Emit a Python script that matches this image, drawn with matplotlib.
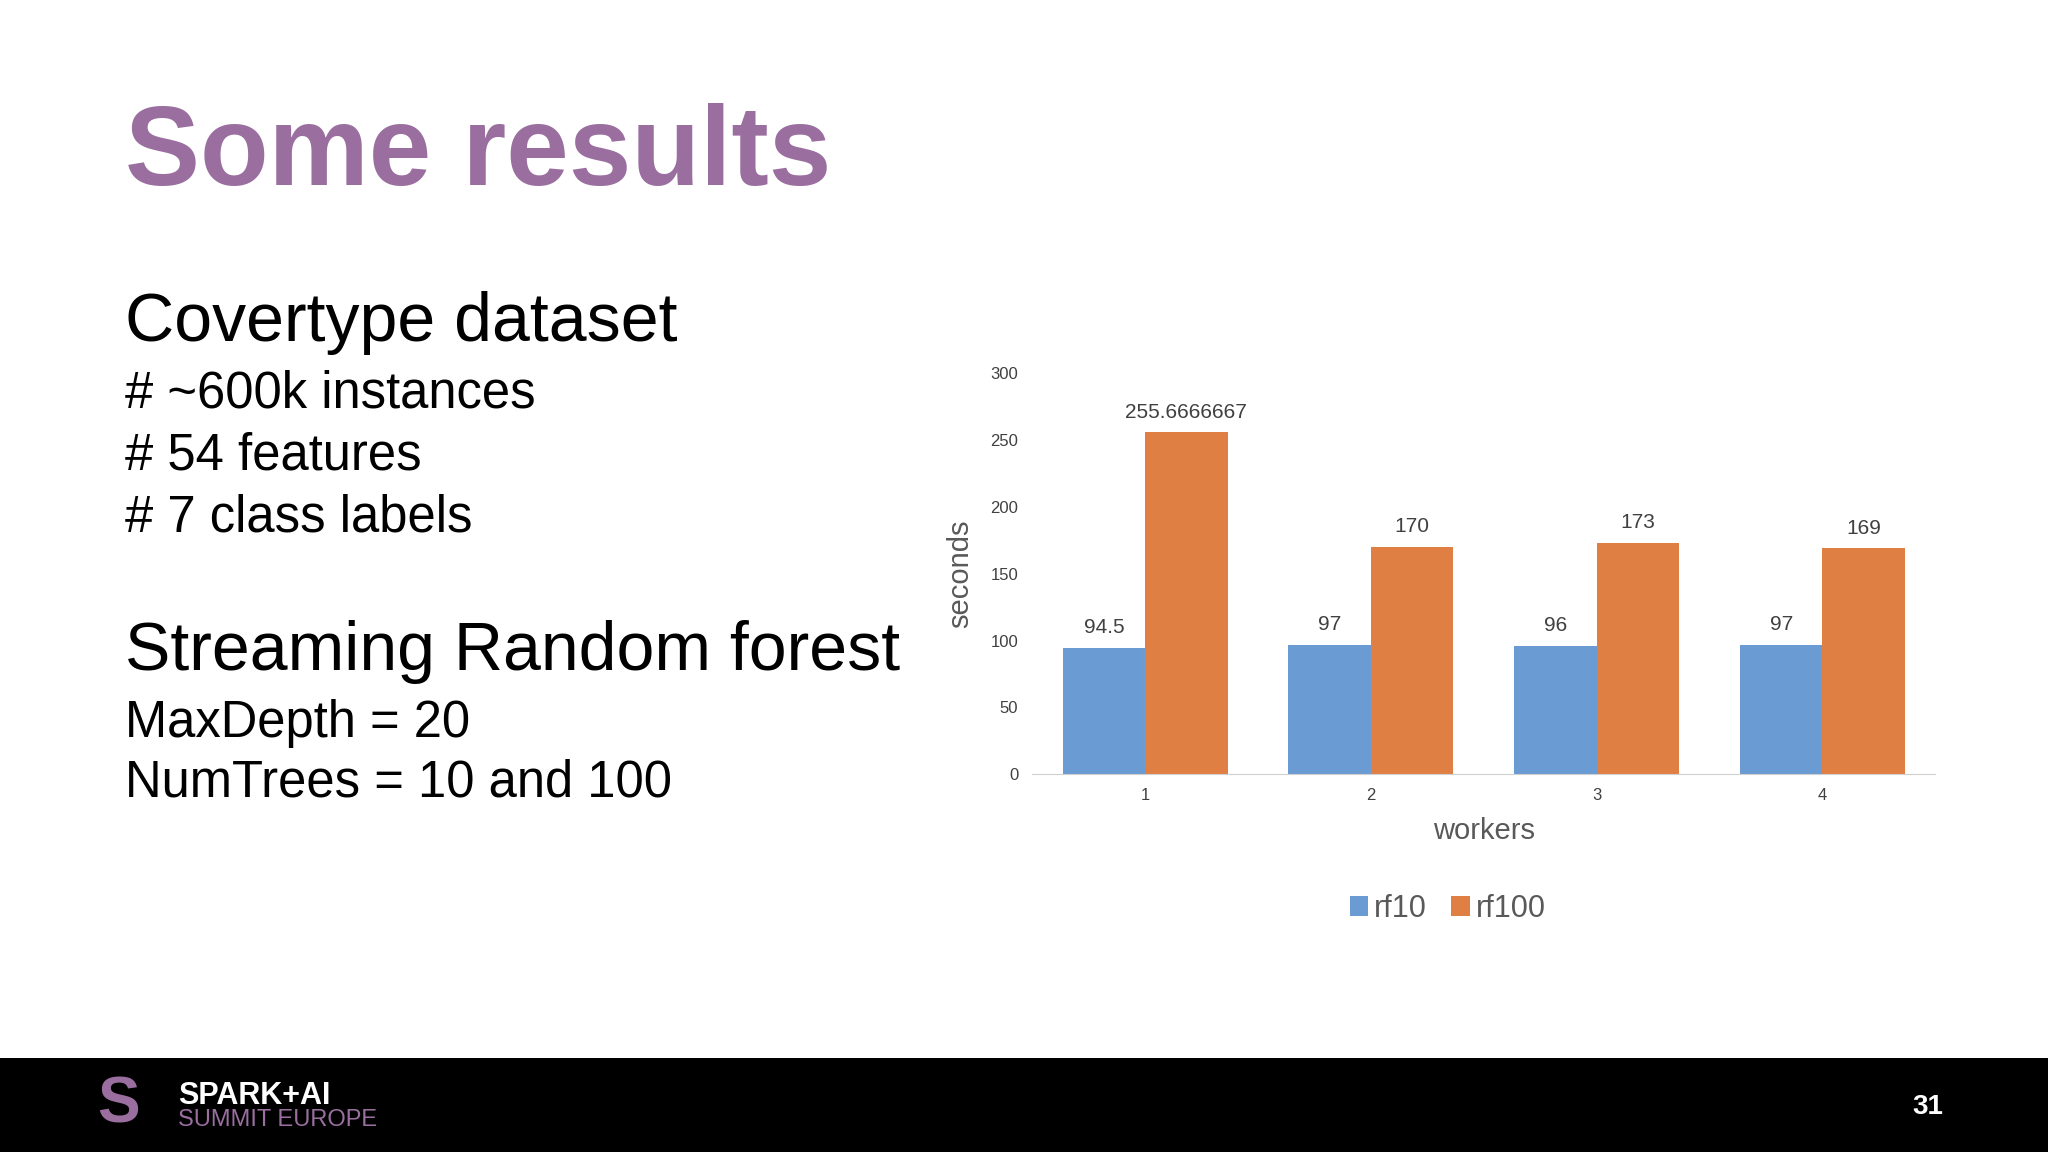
import matplotlib.pyplot as plt
import numpy as np

plt.rcParams['font.family'] = ['Liberation Sans', 'DejaVu Sans']

workers = [1, 2, 3, 4]
rf10 = [94.5, 97, 96, 97]
rf100 = [255.6666667, 170, 173, 169]
rf10_labels = ['94.5', '97', '96', '97']
rf100_labels = ['255.6666667', '170', '173', '169']

purple = '#9a6fa0'
blue = '#6a9bd3'
orange = '#e07f44'

fig = plt.figure(figsize=(20.48, 11.52), dpi=100)
fig.patch.set_facecolor('white')

# slide text
fig.text(0.061, 0.865, 'Some results', fontsize=81, fontweight='bold', color=purple, va='center')
fig.text(0.061, 0.720, 'Covertype dataset', fontsize=49, color='black', va='center')
for i, s in enumerate(['# ~600k instances', '# 54 features', '# 7 class labels']):
    fig.text(0.061, 0.658 - i * 0.054, s, fontsize=36.5, color='black', va='center')
fig.text(0.061, 0.434, 'Streaming Random forest', fontsize=49, color='black', va='center')
fig.text(0.061, 0.372, 'MaxDepth = 20', fontsize=36.5, color='black', va='center')
fig.text(0.061, 0.320, 'NumTrees = 10 and 100', fontsize=36.5, color='black', va='center')

# footer
footer = fig.add_axes([0, 0, 1, 0.082])
footer.set_facecolor('black')
footer.set_xticks([])
footer.set_yticks([])
for sp in footer.spines.values():
    sp.set_visible(False)
fig.text(0.087, 0.049, 'SPARK+AI', fontsize=22, fontweight='bold', color='white', va='center')
fig.text(0.087, 0.028, 'SUMMIT EUROPE', fontsize=17, color=purple, va='center')
fig.text(0.058, 0.040, 'S', fontsize=46, fontweight='bold', color=purple, va='center', ha='center')
fig.text(0.949, 0.039, '31', fontsize=20, fontweight='bold', color='white', va='center', ha='right')

# chart
ax = fig.add_axes([0.504, 0.328, 0.441, 0.348])
x = np.array(workers)
w = 0.365
b1 = ax.bar(x - w / 2, rf10, w, color=blue, label='rf10')
b2 = ax.bar(x + w / 2, rf100, w, color=orange, label='rf100')
for rect, lab in zip(b1, rf10_labels):
    ax.text(rect.get_x() + rect.get_width() / 2, rect.get_height() + 8, lab,
            ha='center', va='bottom', fontsize=15, color='#404040')
for rect, lab in zip(b2, rf100_labels):
    ax.text(rect.get_x() + rect.get_width() / 2, rect.get_height() + 8, lab,
            ha='center', va='bottom', fontsize=15, color='#404040')
ax.set_xlim(0.5, 4.5)
ax.set_ylim(0, 300)
ax.set_yticks(range(0, 301, 50))
ax.set_xticks(x)
ax.tick_params(length=0, labelsize=12, colors='#404040', pad=10)
for s in ['top', 'right', 'left']:
    ax.spines[s].set_visible(False)
ax.spines['bottom'].set_color('#d0d0d0')
ax.set_xlabel('workers', fontsize=21, color='#595959', labelpad=10)
ax.set_ylabel('seconds', fontsize=21, color='#595959', labelpad=12)
ax.legend(loc='upper center', bbox_to_anchor=(0.46, -0.23), ncol=2, frameon=False,
          fontsize=22, handlelength=0.6, handleheight=0.6, columnspacing=0.8,
          handletextpad=0.2, labelcolor='#595959')

fig.savefig('out.png', dpi=100)
